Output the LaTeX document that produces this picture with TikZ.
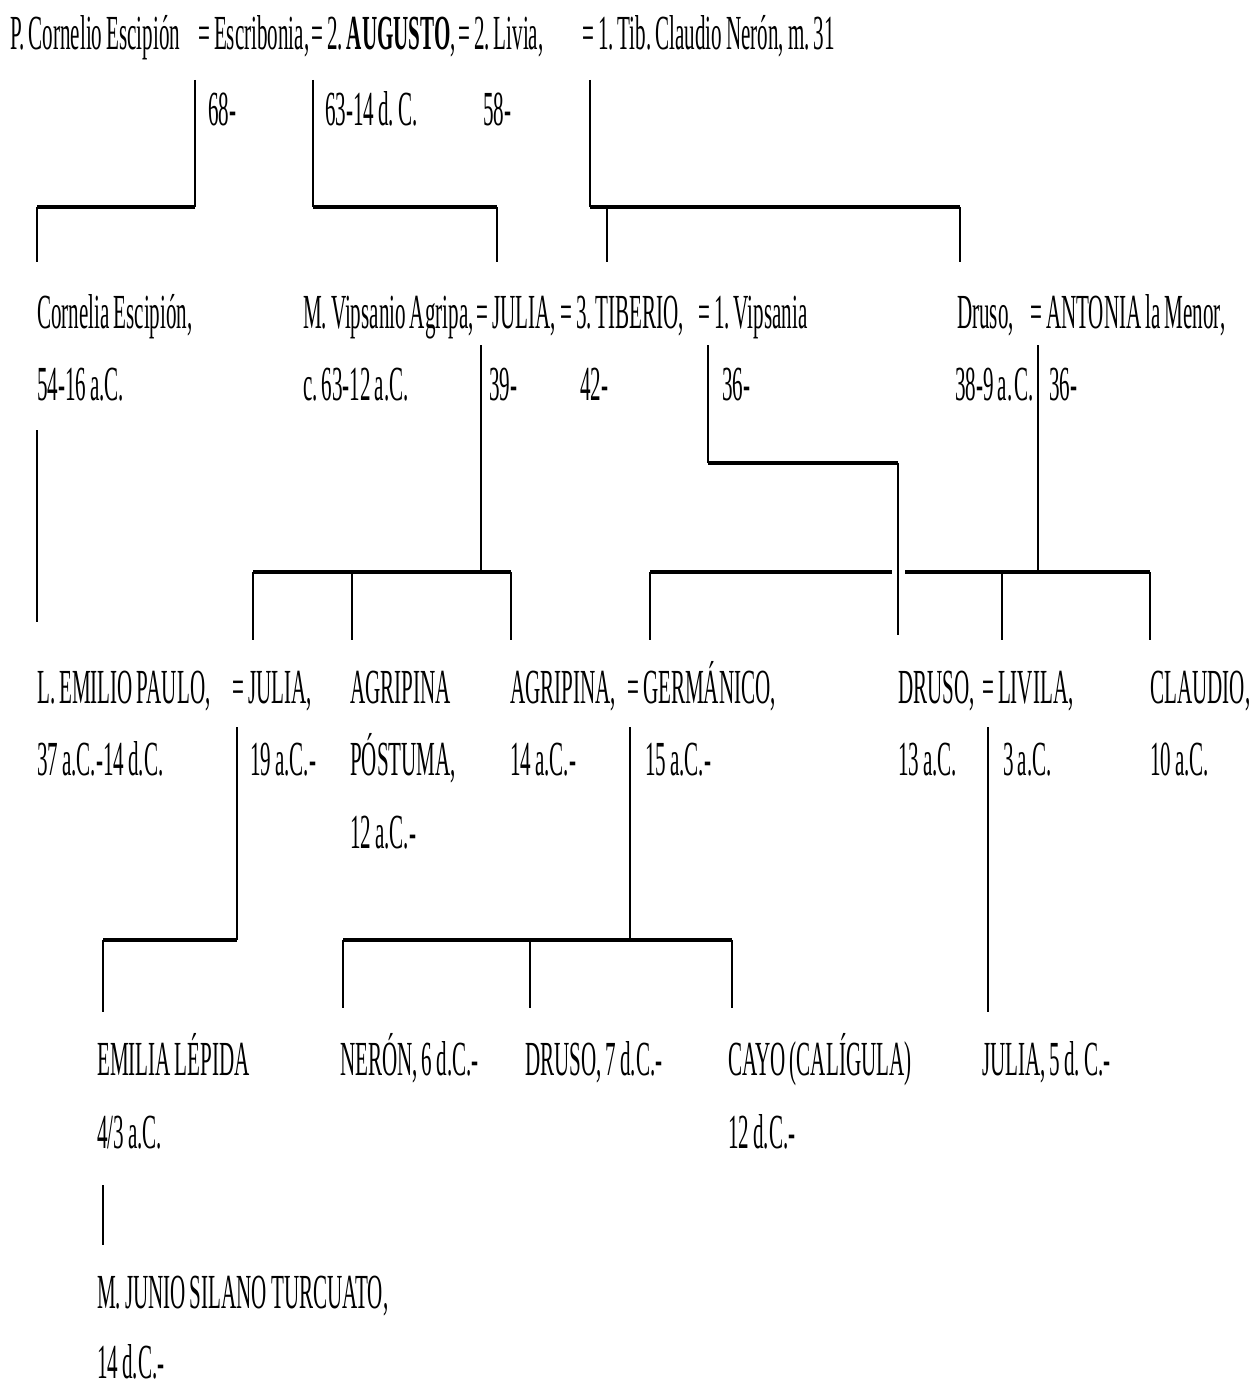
\documentclass[tikz,border=0pt]{standalone}
\usepackage{fontspec}
\setmainfont{Liberation Serif}[FakeStretch=0.43, WordSpace=0.75]
\frenchspacing
\usetikzlibrary{calc, positioning}

\begin{document}
\begin{tikzpicture}[x=1pt, y=-1pt,
  person/.style={anchor=base west, inner sep=0pt, font=\fontsize{49}{58}\selectfont},
  bar/.style={line width=3.6pt},
  stem/.style={line width=1.5pt}]
\useasboundingbox (0,0) rectangle (1260,1386);
\def\rowA{50}
\def\rowAd{125}
\def\rowB{328}
\def\rowBd{400}
\def\rowC{703}
\def\rowCd{775}
\def\rowCe{848}
\def\rowD{1075}
\def\rowDd{1148}
\def\rowE{1308}
\def\rowEd{1378}

% first generation
\node[person] (escipion) at (10,\rowA) {P. Cornelio Escipión};
\node[person] (escribonia) at (198,\rowA) {= Escribonia,};
\node[person] (augusto) at (311,\rowA) {= 2. \textbf{AUGUSTO},};
\node[person] (livia) at (458,\rowA) {= 2. Livia,};
\node[person] (nero) at (582,\rowA) {= 1. Tib. Claudio Nerón, m. 31};
\node[person] (escribonia-d) at (208,\rowAd) {68-};
\node[person] (augusto-d) at (325,\rowAd) {63-14 d. C.};
\node[person] (livia-d) at (483,\rowAd) {58-};

% second generation
\node[person] (cornelia) at (37,\rowB) {Cornelia Escipión,};
\node[person] (agripa) at (303,\rowB) {M. Vipsanio Agripa,};
\node[person] (julia) at (476,\rowB) {= JULIA,};
\node[person] (tiberio) at (560,\rowB) {= 3. TIBERIO,};
\node[person] (vipsania) at (698,\rowB) {= 1. Vipsania};
\node[person] (druso) at (957,\rowB) {Druso,};
\node[person] (antonia) at (1030,\rowB) {= ANTONIA la Menor,};
\node[person] (cornelia-d) at (37,\rowBd) {54-16 a.C.};
\node[person] (agripa-d) at (303,\rowBd) {c. 63-12 a.C.};
\node[person] (julia-d) at (489,\rowBd) {39-};
\node[person] (tiberio-d) at (580,\rowBd) {42-};
\node[person] (vipsania-d) at (722,\rowBd) {36-};
\node[person] (druso-d) at (955,\rowBd) {38-9 a.\hspace{2pt}C.};
\node[person] (antonia-d) at (1049,\rowBd) {36-};

% third generation
\node[person] (paulo) at (37,\rowC) {L. EMILIO PAULO,};
\node[person] (julia2) at (232,\rowC) {= JULIA,};
\node[person] (postuma) at (350,\rowC) {AGRIPINA};
\node[person] (agripina) at (510,\rowC) {AGRIPINA,};
\node[person] (germanico) at (627,\rowC) {= GERMÁNICO,};
\node[person] (druso2) at (898,\rowC) {DRUSO,};
\node[person] (livila) at (982,\rowC) {= LIVILA,};
\node[person] (claudio) at (1150,\rowC) {CLAUDIO,};
\node[person] (paulo-d) at (37,\rowCd) {37 a.C.-14 d.C.};
\node[person] (julia2-d) at (250,\rowCd) {19 a.C.-};
\node[person] (postuma-b) at (350,\rowCd) {PÓSTUMA,};
\node[person] (postuma-d) at (350,\rowCe) {12 a.C.-};
\node[person] (agripina-d) at (510,\rowCd) {14 a.C.-};
\node[person] (germanico-d) at (645,\rowCd) {15 a.C.-};
\node[person] (druso2-d) at (898,\rowCd) {13 a.C.};
\node[person] (livila-d) at (1003,\rowCd) {3 a.C.};
\node[person] (claudio-d) at (1150,\rowCd) {10 a.C.};

% fourth and fifth generation
\node[person] (lepida) at (97,\rowD) {EMILIA LÉPIDA};
\node[person] (neron) at (340,\rowD) {NERÓN, 6 d.C.-};
\node[person] (druso3) at (525,\rowD) {DRUSO, 7 d.C.-};
\node[person] (cayo) at (728,\rowD) {CAYO (CALÍGULA)};
\node[person] (julia3) at (982,\rowD) {JULIA, 5 d. C.-};
\node[person] (lepida-d) at (97,\rowDd) {4/3 a.C.};
\node[person] (cayo-d) at (728,\rowDd) {12 d.C.-};
\node[person] (silano) at (97,\rowE) {M. JUNIO SILANO TURCUATO,};
\node[person] (silano-d) at (97,\rowEd) {14 d.C.-};

% Escipión = Escribonia
\coordinate (escA) at (195,80);
\coordinate (escB) at (195,207);
\coordinate (escC) at (37,207);
\coordinate (escD) at (37,262);
\draw[stem] (escA) -- (escB);
\draw[bar] (escB) -- (escC);
\draw[stem] (escC) -- (escD);

% Escribonia = Augusto
\coordinate (augA) at (313,80);
\coordinate (augB) at (313,207);
\coordinate (augC) at (497,207);
\coordinate (augD) at (497,262);
\draw[stem] (augA) -- (augB);
\draw[bar] (augB) -- (augC);
\draw[stem] (augC) -- (augD);

% Livia = Tib. Claudio Nerón
\coordinate (livA) at (590,80);
\coordinate (livB) at (590,207);
\coordinate (livC) at (960,207);
\draw[stem] (livA) -- (livB);
\draw[bar] (livB) -- (livC);
\draw[stem] (607,207) -- (607,262);
\draw[stem] (livC) -- (960,262);

% Cornelia -> Paulo
\draw[stem] (37,430) -- (37,622);

% Agripa = Julia
\coordinate (julA) at (481,345);
\coordinate (julB) at (481,572);
\draw[stem] (julA) -- (julB);
\draw[bar] (253,572) -- (511,572);
\foreach \x in {253,352,511}
  \draw[stem] (\x,572) -- (\x,640);

% Tiberio = Vipsania
\coordinate (vipA) at (708,345);
\coordinate (vipB) at (708,463);
\coordinate (vipC) at (898,463);
\coordinate (vipD) at (898,635);
\draw[stem] (vipA) -- (vipB);
\draw[bar] (vipB) -- (vipC);
\draw[stem] (vipC) -- (vipD);

% Druso = Antonia
\coordinate (antA) at (1038,345);
\coordinate (antB) at (1038,572);
\draw[stem] (antA) -- (antB);
\draw[bar] (650,572) -- (892,572);
\draw[bar] (905,572) -- (1150,572);
\foreach \x in {650,1002,1150}
  \draw[stem] (\x,572) -- (\x,640);

% Paulo = Julia
\coordinate (pauA) at (237,727);
\coordinate (pauB) at (237,940);
\coordinate (pauC) at (103,940);
\draw[stem] (pauA) -- (pauB);
\draw[bar] (pauB) -- (pauC);
\draw[stem] (pauC) -- (103,1012);

% Agripina = Germánico
\coordinate (gerA) at (630,727);
\coordinate (gerB) at (630,940);
\draw[stem] (gerA) -- (gerB);
\draw[bar] (343,940) -- (732,940);
\foreach \x in {343,530,732}
  \draw[stem] (\x,940) -- (\x,1008);

% Druso = Livila
\draw[stem] (988,727) -- (988,1012);

% Lépida -> Silano
\draw[stem] (103,1185) -- (103,1245);
\end{tikzpicture}
\end{document}
